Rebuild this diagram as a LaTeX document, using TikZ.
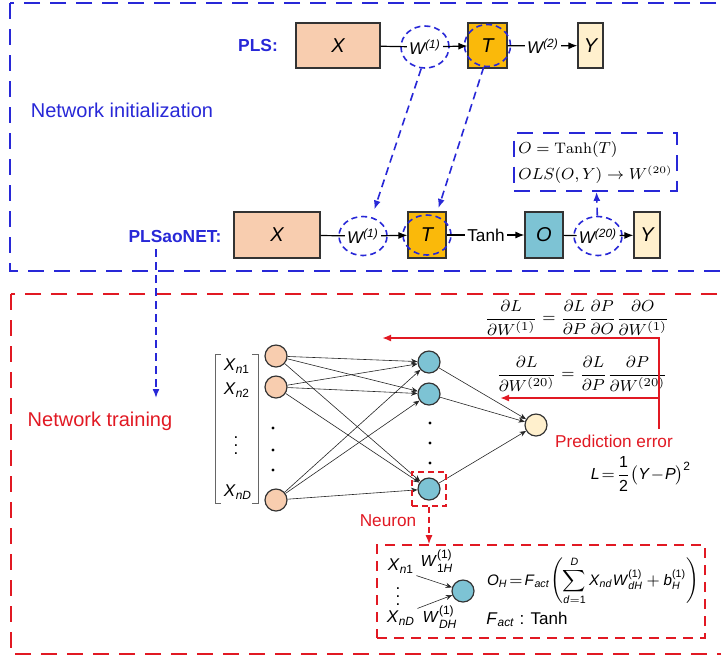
\documentclass[tikz,border=0pt]{standalone}
\usepackage{amsmath, amssymb}
\usepackage{fontspec}
\usepackage{tikz}
\usetikzlibrary{calc, positioning, shapes, arrows.meta}
\newfontfamily\arialf{Liberation Sans}
\definecolor{plsblue}{RGB}{40,40,215}
\definecolor{plsred}{RGB}{225,25,35}
\definecolor{peach}{RGB}{248,205,175}
\definecolor{tbox}{RGB}{250,185,10}
\definecolor{oblue}{RGB}{125,195,212}
\definecolor{ylw}{RGB}{255,240,205}
\newcommand{\sv}[1]{\text{\textit{#1}}}

\begin{document}
\begin{tikzpicture}[
		x=0.5pt, y=-0.5pt,
		>={Latex[length=4.5pt, width=3.5pt]},
		box/.style={draw=black!80, line width=0.6pt, inner sep=0pt, minimum height=22.5pt, font=\arialf\fontsize{10}{12}\selectfont\itshape},
		wlab/.style={inner sep=1pt, font=\arialf\fontsize{8.5}{10}\selectfont\itshape},
		dashell/.style={ellipse, draw=plsblue, dash pattern=on 3pt off 2pt, line width=0.8pt, minimum width=24pt, minimum height=21pt, inner sep=0pt},
		bluedash/.style={->, draw=plsblue, line width=0.8pt, dash pattern=on 4pt off 2.5pt},
		bluebox/.style={draw=plsblue, line width=0.9pt, dash pattern=on 8pt off 5pt},
		redbox/.style={draw=plsred, line width=0.9pt, dash pattern=on 8pt off 5pt},
		title/.style={font=\arialf\bfseries\fontsize{8.7}{10}\selectfont, text=plsblue},
		inneur/.style={circle, draw=black!80, fill=peach, line width=0.6pt, minimum size=11pt, inner sep=0pt},
		hneur/.style={inneur, fill=oblue},
		oneur/.style={inneur, fill=ylw},
		syn/.style={->, >={Stealth[length=3.2pt, width=2.6pt]}, line width=0.3pt, draw=black!85},
		fback/.style={->, draw=plsred, line width=0.9pt},
		rtxt/.style={text=plsred, font=\arialf\fontsize{8.6}{10}\selectfont},
		xlab/.style={font=\arialf\fontsize{8.5}{10}\selectfont, inner sep=1pt},
		]
	\useasboundingbox (0,0) rectangle (721,661);

	% --- cadres ---
	\draw[bluebox] (10,3) rectangle (745,271);
	\draw[redbox] (11,294) rectangle (745,654);

	% --- PLS (en haut) ---
	\node[title] (lblA) at (258,45) {PLS:};
	\node[box, fill=peach, minimum width=42pt] (XA) at (338,45.5) {X};
	\node[dashell] (eWA) at (425,47) {};
	\node[wlab] (WA) at (eWA) {W\textsuperscript{(1)}};
	\node[box, fill=tbox, minimum width=19.5pt] (TA) at (487.5,45.5) {T};
	\node[dashell, minimum width=23pt] (eTA) at (TA) {};
	\node[wlab] (W2A) at (543,46) {W\textsuperscript{(2)}};
	\node[box, fill=ylw, minimum width=12.5pt] (YA) at (590.5,45.5) {Y};

	\draw[line width=0.6pt] (XA) -- (WA);
	\draw[->, line width=0.6pt] (WA) -- (TA);
	\draw[line width=0.6pt] (TA) -- (W2A);
	\draw[->, line width=0.6pt] (W2A) -- (YA);

	\node[font=\arialf\fontsize{10}{12}\selectfont, text=plsblue] (init) at (122,110) {Network initialization};

	% --- PLSaoNET ---
	\node[title] (lblB) at (175,236) {PLSaoNET:};
	\node[box, fill=peach, minimum width=43pt, minimum height=23pt] (XB) at (277,235) {X};
	\node[dashell, minimum height=19.5pt] (eWB) at (363,236) {};
	\node[wlab] (WB) at (eWB) {W\textsuperscript{(1)}};
	\node[box, fill=tbox, minimum width=19pt, minimum height=23pt] (TB) at (427,235) {T};
	\node[dashell, minimum height=20pt] (eTB) at (TB) {};
	\node[font=\arialf\fontsize{8.6}{10}\selectfont, inner sep=1pt] (tanh) at (486,235) {Tanh};
	\node[box, fill=oblue, minimum width=19pt, minimum height=23pt] (OB) at (544,235) {O};
	\node[dashell, minimum height=19.5pt] (eWC) at (598,236) {};
	\node[wlab] (WC) at (eWC) {W\textsuperscript{(20)}};
	\node[box, fill=ylw, minimum width=13pt, minimum height=23pt] (YB) at (647,235) {Y};

	\draw[line width=0.6pt] (XB) -- (WB);
	\draw[->, line width=0.6pt] (WB) -- (TB);
	\draw[line width=0.6pt] (TB) -- (tanh);
	\draw[->, line width=0.6pt] (tanh) -- (OB);
	\draw[line width=0.6pt] (OB) -- (WC);
	\draw[->, line width=0.6pt] (WC) -- (YB);

	\node[bluebox, align=left, minimum width=72.5pt, minimum height=29pt, inner sep=2pt, font=\fontsize{7.6}{13}\selectfont] (olsbox) at (595.5,162)
		{$O=\mathrm{Tanh}(T)$\\$OLS(O,Y)\rightarrow W^{(20)}$};
	\draw[bluedash] (eWC) -- (olsbox);

	% --- transfert des poids ---
	\draw[bluedash, shorten >=4pt] (eWA.260) -- (eWB.65);
	\draw[bluedash, shorten >=4pt] (eTA.260) -- (eTB.65);
	\coordinate (train) at (156,398);
	\draw[bluedash] (lblB.south -| train) -- (train);

	% --- apprentissage ---
	\node[font=\arialf\fontsize{10}{12}\selectfont, text=plsred] (trainlbl) at (100,421) {Network training};

	\node[inneur] (in1) at (276,356) {};
	\node[inneur] (in2) at (276,387) {};
	\node[inneur] (inD) at (276,500) {};
	\node[hneur] (h1) at (429,362) {};
	\node[hneur] (h2) at (429,394) {};
	\node[hneur] (h3) at (429,489) {};
	\node[oneur] (out) at (536,425) {};

	\foreach \i in {1,2,D}
		\foreach \j in {1,2,3}
			\draw[syn] (in\i) -- (h\j);
	\foreach \j in {1,2,3}
		\draw[syn] (h\j) -- (out);

	\foreach \yy in {428,450,470}
		\fill (273,\yy) circle (0.8pt);
	\foreach \yy in {423,443,463}
		\fill (430,\yy) circle (0.8pt);

	% vecteur d'entree
	\draw[black!60, line width=0.5pt] (221,354) -- (215,354) -- (215,503) -- (221,503);
	\draw[black!60, line width=0.5pt] (252,354) -- (258,354) -- (258,503) -- (252,503);
	\node[xlab] (xn1) at (237,366) {$\sv{X}_{\sv{n}\text{1}}$};
	\node[xlab] (xn2) at (237,390) {$\sv{X}_{\sv{n}\text{2}}$};
	\node[xlab] (xdots) at (236,440) {$\vdots$};
	\node[xlab] (xnD) at (238,492) {$\sv{X}_{\sv{nD}}$};

	% retropropagation
	\node[font=\fontsize{8.3}{10}\selectfont] (grad1) at (577,318)
		{$\dfrac{\partial L}{\partial W^{(1)}}=\dfrac{\partial L}{\partial P}\dfrac{\partial P}{\partial O}\dfrac{\partial O}{\partial W^{(1)}}$};
	\node[font=\fontsize{8.3}{10}\selectfont] (grad2) at (582,374)
		{$\dfrac{\partial L}{\partial W^{(20)}}=\dfrac{\partial L}{\partial P}\dfrac{\partial P}{\partial W^{(20)}}$};
	\node[rtxt] (perr) at (614,441) {Prediction error};
	\node[xlab, font=\arialf\fontsize{8}{10}\selectfont] (loss) at (641,474) {$\sv{L}\!=\!\dfrac{\text{1}}{\text{2}}\big(\sv{Y}\!-\!\sv{P}\big)^{\text{2}}$};

	\coordinate (vtop) at (659,429);
	\coordinate (fb1) at (382,338);
	\coordinate (fb2) at (500,398);
	\draw[fback] (vtop) |- (fb1);
	\draw[fback] (vtop |- fb2) -- (fb2);

	% --- detail d'un neurone ---
	\node[draw=plsred, dash pattern=on 3pt off 2pt, line width=0.7pt, minimum size=17pt, inner sep=0pt] (nbox) at (h3) {};
	\node[rtxt] (neuron) at (388,521) {Neuron};
	\node[draw=plsred, dash pattern=on 5pt off 3.5pt, line width=0.8pt, minimum width=164pt, minimum height=46.5pt, inner sep=0pt] (detail) at (541,591.5) {};
	\draw[->, draw=plsred, line width=0.7pt, dash pattern=on 3pt off 2pt] (nbox.south) -- (nbox.south |- detail.north);

	\node[hneur] (hd) at (463,591) {};
	\node[xlab] (xd1) at (401,566) {$\sv{X}_{\sv{n}\text{1}}$};
	\node[xlab, inner sep=0pt] (xddots) at (398,591) {$\vdots$};
	\node[xlab] (xdD) at (401,618) {$\sv{X}_{\sv{nD}}$};
	\node[xlab, font=\arialf\fontsize{8}{10}\selectfont] (w1h) at (437,561) {$\sv{W}_{\text{1}\sv{H}}^{\text{(1)}}$};
	\node[xlab, font=\arialf\fontsize{8}{10}\selectfont] (wdh) at (440,617) {$\sv{W}_{\sv{DH}}^{\text{(1)}}$};
	\draw[syn] (xd1.south east) -- (hd);
	\draw[syn] (xdD.north east) -- (hd);

	\node[xlab, font=\arialf\fontsize{7.6}{10}\selectfont] (oh) at (593,581)
		{$\displaystyle\sv{O}_{\sv{H}}\!=\!\sv{F}_{\sv{act}}\!\left(\sum_{\sv{d}=\text{1}}^{\sv{D}}\sv{X}_{\sv{nd}}\sv{W}_{\sv{dH}}^{\text{(1)}}+\sv{b}_{\sv{H}}^{\text{(1)}}\right)$};
	\node[xlab] (fact) at (527,619) {$\sv{F}_{\sv{act}}$ : Tanh};

\end{tikzpicture}
\end{document}
